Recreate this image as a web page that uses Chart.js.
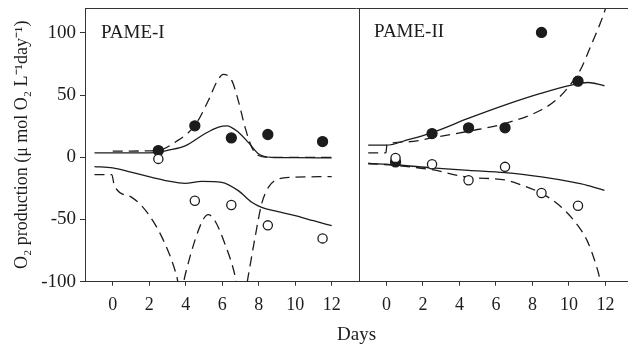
<!DOCTYPE html>
<html>
<head>
<meta charset="utf-8">
<script src="https://cdn.jsdelivr.net/npm/chart.js@4"></script>
<style>
  html, body { margin: 0; padding: 0; background: #fff; overflow: hidden; }
</style>
</head>
<body>
<canvas id="myChart" width="628" height="347"></canvas>
<script>
// observations (filled = production, open = respiration)
var obsDays1 = [2.5, 4.5, 6.5, 8.5, 11.5];
var obsFilled1 = [5.4, 25.3, 15.6, 18.3, 12.6];
var obsOpen1 = [-1.3, -34.9, -38.3, -54.7, -65.2];

var obsDays2 = [0.5, 2.5, 4.5, 6.5, 8.5, 10.5];
var obsFilled2 = [-3.7, 19.1, 23.7, 23.7, 100.4, 61.2];
var obsOpen2 = [-0.5, -5.6, -18.5, -7.7, -28.7, -39];

// model curves, PAME-I
var solidUpDays1 = [-1, 0, 1, 2, 2.5, 3, 4, 5, 5.8, 6.25, 6.9, 7.43, 8, 8.7, 10, 12];
var solidUp1 = [3.5, 3.5, 3.5, 3.6, 4, 5.5, 9.4, 18.5, 24.2, 25.3, 20, 12, 2.7, 0, -0.3, -0.5];
var dashUpDays1 = [0, 1, 2, 2.5, 3.41, 4.5, 5.24, 5.7, 6.06, 6.52, 6.88, 7.25, 7.62, 7.98, 8.5, 10, 12];
var dashUp1 = [5, 5, 5.2, 5.5, 12, 25.5, 45.6, 60.4, 66.6, 61.8, 45.6, 24.2, 8, 1.4, 0, 0, 0];
var solidLowDays1 = [-1, 0, 1, 2.14, 3, 3.96, 4.88, 5.97, 6.88, 7.62, 8.16, 9, 10, 11, 12];
var solidLow1 = [-7.5, -8.5, -12, -16.1, -19, -20.9, -19.3, -20.1, -26.8, -36.2, -40.3, -43.5, -46.9, -51, -55];
var dashLowDays1 = [-1, -0.05, 0.09, 1.04, 1.95, 2.87, 3.5, 3.73, 3.96, 4.5, 4.97, 5.24, 5.6, 6.15, 6.7, 7.06, 7.43, 7.8, 8.16, 8.53, 9.08, 9.8, 12];
var dashLow1 = [-13.9, -13.9, -22.8, -32.2, -45.6, -69.7, -95.2, -110, -95.2, -67, -49.6, -46.1, -51, -69.7, -95.2, -125, -95.2, -64.4, -37.5, -24.2, -17.4, -16.1, -15.5];

// model curves, PAME-II
var solidUpDays2 = [-1, 0, 1.2, 2.51, 4.48, 6.48, 8.45, 10.13, 11.04, 11.95];
var solidUp2 = [9.7, 9.7, 14.2, 19.9, 31.2, 41.9, 51.3, 58, 60.1, 57.5];
var dashUpDays2 = [-1, -0.03, 0.03, 1.2, 2.5, 4.48, 6.48, 8.45, 9.4, 10.13, 10.67, 11.22, 11.68, 11.98, 12.1];
var dashUp2 = [3.5, 3.5, 10, 12.5, 15.6, 20.9, 27.1, 37.8, 47.3, 59.3, 71.4, 90.2, 106.3, 118.4, 125];
var solidLowDays2 = [-1, 0.5, 2.5, 4.5, 6.5, 8.5, 10.13, 11, 11.95];
var solidLow2 = [-5, -6, -8.5, -10.5, -12.3, -15.8, -19.8, -22.5, -26.6];
var dashLowDays2 = [-1, 0.5, 2.5, 4.5, 6.5, 7.5, 8.5, 9.5, 10.5, 11, 11.5, 11.7, 11.9];
var dashLow2 = [-5, -6.5, -10, -16.1, -18.2, -22.8, -29, -38.9, -55, -67, -87, -98, -115];

var xTicks = [0, 2, 4, 6, 8, 10, 12];
var yTicks = [-100, -50, 0, 50, 100];
var panelNames = ['PAME-I', 'PAME-II'];

// second panel is drawn on the same x scale, shifted right
var SHIFT = 15;
var DIVIDER = 13.5;

function pts(days, vals, shift) {
  return days.map(function (d, i) { return { x: d + shift, y: vals[i] }; });
}

var font = "'Liberation Serif', 'Times New Roman', serif";
var ink = '#1c1c1c';

function dots(data, filled) {
  return {
    data: data,
    showLine: false,
    pointRadius: filled ? 5 : 4.6,
    pointBorderWidth: 1.3,
    pointBackgroundColor: filled ? ink : '#fff',
    pointBorderColor: ink
  };
}

function curve(data, dashed) {
  return {
    data: data,
    showLine: true,
    pointRadius: 0,
    borderColor: ink,
    borderWidth: 1.3,
    borderDash: dashed ? [10, 6] : [],
    cubicInterpolationMode: 'monotone',
    fill: false
  };
}

var panelText = {
  id: 'panelText',
  afterDraw: function (chart) {
    var c = chart.ctx, a = chart.chartArea, xs = chart.scales.x;
    c.save();
    // top frame line
    c.strokeStyle = '#333';
    c.lineWidth = 1;
    c.beginPath();
    c.moveTo(a.left, a.top + 0.5);
    c.lineTo(a.right, a.top + 0.5);
    c.stroke();
    c.fillStyle = ink;
    c.font = '19px ' + font;
    c.textBaseline = 'middle';
    c.fillText(panelNames[0], a.left + 16, a.top + 25);
    c.fillText(panelNames[1], xs.getPixelForValue(DIVIDER) + 15, a.top + 24);
    c.restore();
  }
};

var ctx = document.getElementById('myChart').getContext('2d');
var chart = new Chart(ctx, {
  type: 'scatter',
  data: {
    datasets: [
      dots(pts(obsDays2, obsOpen2, SHIFT), false),
      dots(pts(obsDays1, obsOpen1, 0), false),
      dots(pts(obsDays1, obsFilled1, 0), true),
      dots(pts(obsDays2, obsFilled2, SHIFT), true),
      curve(pts(solidUpDays1, solidUp1, 0), false),
      curve(pts(dashUpDays1, dashUp1, 0), true),
      curve(pts(solidLowDays1, solidLow1, 0), false),
      curve(pts(dashLowDays1, dashLow1, 0), true),
      curve(pts(solidUpDays2, solidUp2, SHIFT), false),
      curve(pts(dashUpDays2, dashUp2, SHIFT), true),
      curve(pts(solidLowDays2, solidLow2, SHIFT), false),
      curve(pts(dashLowDays2, dashLow2, SHIFT), true)
    ]
  },
  options: {
    responsive: false,
    animation: false,
    events: [],
    layout: { autoPadding: false, padding: { top: 8, left: 0, right: 0, bottom: 0 } },
    plugins: { legend: { display: false }, tooltip: { enabled: false } },
    scales: {
      x: {
        type: 'linear',
        min: -1.52,
        max: 28.24,
        afterBuildTicks: function (axis) {
          var t = xTicks.map(function (v) { return { value: v }; });
          t.push({ value: DIVIDER });
          xTicks.forEach(function (v) { t.push({ value: v + SHIFT }); });
          axis.ticks = t;
        },
        afterFit: function (axis) {
          axis.height = 65.3;
          axis.paddingLeft = 0;
          axis.paddingRight = 0;
        },
        border: { display: true, color: '#333', width: 1 },
        grid: {
          drawOnChartArea: true,
          tickLength: 4,
          color: function (c) { return c.tick && c.tick.value === DIVIDER ? '#333' : 'rgba(0,0,0,0)'; },
          tickColor: function (c) { return c.tick && c.tick.value === DIVIDER ? 'rgba(0,0,0,0)' : '#333'; }
        },
        ticks: {
          autoSkip: false,
          maxRotation: 0,
          padding: 9,
          color: ink,
          font: { family: font, size: 18 },
          callback: function (v) {
            if (v === DIVIDER) return '';
            return v < DIVIDER ? v : v - SHIFT;
          }
        },
        title: {
          display: true,
          text: 'Days',
          color: ink,
          font: { family: font, size: 19 },
          padding: { top: 0, bottom: 1 }
        }
      },
      y: {
        min: -100,
        max: 120,
        afterBuildTicks: function (axis) {
          axis.ticks = yTicks.map(function (v) { return { value: v }; });
        },
        afterFit: function (axis) {
          axis.width = 85;
          axis.paddingTop = 0;
          axis.paddingBottom = 0;
        },
        border: { display: true, color: '#333', width: 1 },
        grid: { drawOnChartArea: false, tickLength: 5, tickColor: '#333' },
        ticks: {
          padding: 4,
          color: ink,
          font: { family: font, size: 19 }
        },
        title: {
          display: true,
          text: 'O\u2082 production (\u03bc mol O\u2082 L\u207b\u00b9day\u207b\u00b9)',
          color: ink,
          font: { family: font, size: 18 },
          padding: { top: 11, bottom: 0 }
        }
      }
    }
  },
  plugins: [panelText]
});
</script>
</body>
</html>
